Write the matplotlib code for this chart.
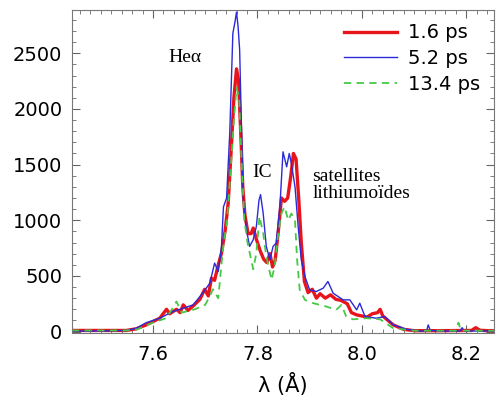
import matplotlib.pyplot as plt
from matplotlib.ticker import MultipleLocator

# wavelength (Angstrom) and intensity
lam_16 = [7.445, 7.50, 7.549, 7.568, 7.587, 7.60, 7.613, 7.626, 7.632, 7.645, 7.652,
          7.658, 7.667, 7.677, 7.690, 7.699, 7.706, 7.712, 7.718, 7.725, 7.731,
          7.738, 7.744, 7.750, 7.755, 7.760, 7.764, 7.768, 7.772, 7.776, 7.782,
          7.788, 7.792, 7.798, 7.805, 7.812, 7.818, 7.824, 7.829, 7.834, 7.840,
          7.846, 7.852, 7.858, 7.864, 7.869, 7.874, 7.879, 7.884, 7.890, 7.897,
          7.905, 7.913, 7.920, 7.930, 7.940, 7.950, 7.960, 7.972, 7.980, 7.990,
          8.000, 8.010, 8.020, 8.030, 8.035, 8.040, 8.050, 8.060, 8.080, 8.100,
          8.150, 8.210, 8.218, 8.226, 8.240, 8.253]
int_16 = [10, 10, 10, 25, 60, 90, 120, 200, 160, 200, 170,
          240, 190, 230, 290, 380, 320, 480, 460, 600, 700,
          900, 1150, 1650, 2100, 2360, 2250, 1800, 1300, 1050, 880,
          880, 930, 830, 730, 650, 620, 700, 580, 640, 900,
          1200, 1170, 1200, 1400, 1600, 1550, 1200, 800, 450, 350,
          380, 300, 340, 300, 330, 290, 280, 250, 170, 150,
          140, 130, 160, 170, 200, 140, 100, 60, 20, 8,
          8, 10, 35, 12, 8, 8]

lam_52 = [7.445, 7.50, 7.549, 7.568, 7.587, 7.613, 7.638, 7.658, 7.677, 7.696,
          7.709, 7.718, 7.725, 7.731, 7.735, 7.741, 7.747, 7.753, 7.757, 7.760,
          7.763, 7.766, 7.769, 7.773, 7.779, 7.785, 7.792, 7.798, 7.803, 7.806,
          7.811, 7.817, 7.824, 7.830, 7.836, 7.843, 7.849, 7.856, 7.861, 7.865,
          7.872, 7.878, 7.884, 7.891, 7.900, 7.913, 7.926, 7.935, 7.945, 7.964,
          7.977, 7.990, 7.996, 8.006, 8.028, 8.044, 8.060, 8.086, 8.111, 8.124,
          8.127, 8.131, 8.150, 8.188, 8.192, 8.196, 8.253]
int_52 = [5, 5, 10, 30, 80, 120, 180, 210, 240, 350,
          435, 615, 540, 750, 1120, 1200, 1780, 2680, 2780, 2870,
          2740, 2530, 1930, 1180, 915, 765, 825, 945, 1180, 1230,
          1065, 765, 645, 765, 795, 1120, 1615, 1480, 1600, 1510,
          1300, 945, 645, 495, 375, 360, 390, 450, 345, 285,
          285, 195, 255, 135, 120, 135, 60, 20, 5, 5,
          60, 10, 5, 5, 35, 5, 5]

lam_134 = [7.445, 7.50, 7.55, 7.57, 7.60, 7.625, 7.635, 7.645, 7.655, 7.68,
           7.70, 7.709, 7.715, 7.725, 7.734, 7.742, 7.748, 7.755, 7.760, 7.765,
           7.770, 7.775, 7.781, 7.792, 7.798, 7.804, 7.811, 7.817, 7.827, 7.833,
           7.840, 7.846, 7.852, 7.859, 7.865, 7.872, 7.876, 7.881, 7.891, 7.907,
           7.932, 7.951, 7.961, 7.970, 7.983, 8.009, 8.035, 8.060, 8.100, 8.180,
           8.185, 8.190, 8.253]
int_134 = [10, 10, 10, 20, 80, 120, 190, 270, 170, 200,
           240, 320, 380, 300, 740, 1000, 1400, 1900, 2190, 2100,
           1500, 1000, 800, 560, 705, 1035, 885, 675, 465, 585,
           885, 1060, 1120, 1000, 1060, 1000, 645, 375, 285, 255,
           225, 195, 240, 135, 110, 120, 110, 30, 8, 8,
           80, 8, 8]

x_ticks = [7.6, 7.8, 8.0, 8.2]
y_ticks = [0, 500, 1000, 1500, 2000, 2500]


def main():
    fig = plt.figure(figsize=(5.0, 4.11), dpi=100)
    ax = fig.add_axes([0.144, 0.19, 0.844, 0.786])

    ax.plot(lam_16, int_16, color='#e8141c', lw=2.4, label='1.6 ps')
    ax.plot(lam_52, int_52, color='#2a2ad8', lw=1.0, label='5.2 ps')
    ax.plot(lam_134, int_134, color='#46c846', lw=1.3, ls=(0, (4, 3)), label='13.4 ps')

    ax.set_xlim(7.445, 8.253)
    ax.set_ylim(-12, 2890)
    ax.set_xticks(x_ticks)
    ax.set_yticks(y_ticks)
    ax.xaxis.set_major_formatter(plt.FormatStrFormatter('%.1f'))
    ax.xaxis.set_minor_locator(MultipleLocator(0.02))
    ax.yaxis.set_minor_locator(MultipleLocator(100))
    ax.tick_params(which='both', direction='in', top=True, right=True,
                   color='#666666', labelsize=14)
    ax.tick_params(which='major', length=6)
    ax.tick_params(which='minor', length=3)
    ax.tick_params(axis='x', pad=9)
    ax.tick_params(axis='y', pad=7)
    for s in ax.spines.values():
        s.set_color('#777777')

    ax.set_xlabel('λ (Å)', fontsize=15, labelpad=6)

    serif = 'Liberation Serif'
    ax.text(7.630, 2460, 'Heα', family=serif, fontsize=14, va='center')
    ax.text(7.790, 1430, 'IC', family=serif, fontsize=14, va='center')
    ax.text(7.905, 1320, 'satellites\nlithiumoïdes', family=serif,
            fontsize=14, va='center', linespacing=1.0)

    ax.legend(loc='upper right', frameon=False, fontsize=14, handlelength=2.7,
              labelspacing=0.35, borderaxespad=0.3, handletextpad=0.6)

    fig.savefig('out.png')


if __name__ == "__main__":
    main()
